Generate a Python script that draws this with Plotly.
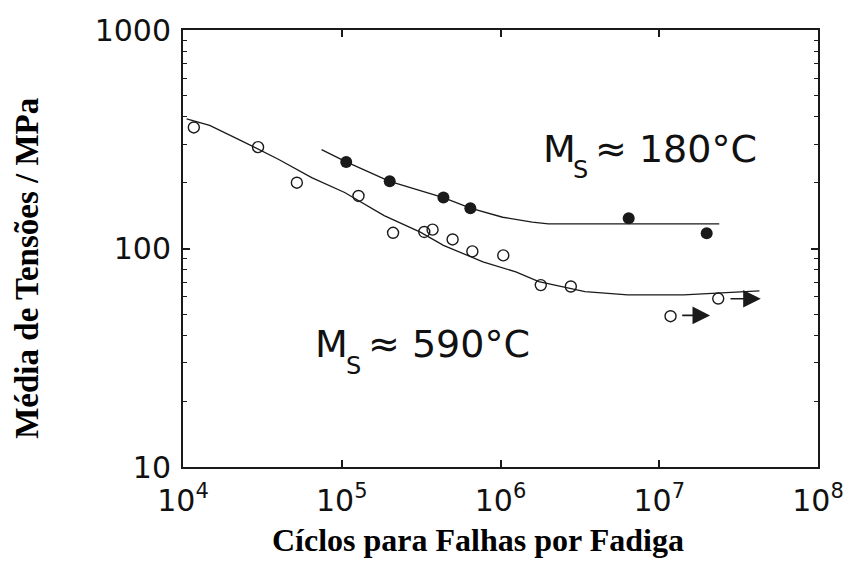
import math
import plotly.graph_objects as go

# Fatigue data: cycles to failure vs. mean stress (MPa)
# Steel with Ms ~ 590 °C (open symbols)
cycles_590 = [11700, 29700, 52150, 127500, 210500, 331000, 373300, 499300,
              664800, 1.041e6, 1.794e6, 2.773e6, 1.178e7, 2.353e7]
stress_590 = [358, 291, 200, 174, 118, 119, 122, 110, 97, 93, 68, 67, 49, 59]

# Steel with Ms ~ 180 °C (filled symbols)
cycles_180 = [106700, 200500, 437000, 646000, 6.42e6, 1.99e7]
stress_180 = [249, 203, 171, 153, 137.5, 117.5]

# Hand-drawn trend curves
curve_590_x = [10540, 14720, 23720, 40120, 64660, 104300, 185000, 312600,
               437000, 775100, 1.249e6, 1.743e6, 3.403e6, 6.33e6, 1.426e7, 4.277e7]
curve_590_y = [392, 366, 309.5, 255.5, 211, 180.4, 141.5, 118.8,
               103.4, 86.9, 78.2, 70.5, 63.5, 61.4, 61.4, 64]
curve_180_x = [74630, 106700, 200500, 437000, 646000, 1.032e6, 1.586e6, 2.003e6, 2.388e7]
curve_180_y = [283.6, 249.3, 203, 171, 153, 139, 132, 129.6, 129.6]

# Run-out specimens (did not fail): arrow tail / head in cycles, at the stress level
runout_tail = [1.365e7, 2.75e7]
runout_head = [2.09e7, 4.36e7]
runout_stress = [49.4, 58.9]

# Curve labels: "M", subscript "S", remainder
label_main = ["M", "M"]
label_sub = ["S", "S"]
label_rest = ["≈ 180°C", "≈ 590°C"]

x_ticks = [1e4, 1e5, 1e6, 1e7, 1e8]
x_ticktext = ["10<sup>4</sup>", "10<sup>5</sup>", "10<sup>6</sup>", "10<sup>7</sup>", "10<sup>8</sup>"]
y_ticks = [10, 100, 1000]
y_ticktext = ["10", "100", "1000"]
y_minor = [20, 30, 40, 50, 60, 70, 80, 90, 200, 300, 400, 500, 600, 700, 800, 900]

x_title = "Cíclos para Falhas por Fadiga"
y_title = "Média de Tensões / MPa"

INK = "#1a1a1a"
TICK_FONT = dict(family="DejaVu Sans", size=30, color="#111111")
LABEL_FONT = dict(family="DejaVu Sans", size=38, color="#111111")
SUB_FONT = dict(family="DejaVu Sans", size=24, color="#111111")
TITLE_FONT = dict(family="Liberation Serif", size=32, color="#000000")

# plot-area geometry in pixels (used to place the free-standing texts)
L, R, T, B = 183, 826, 26, 467


def px_x(px):
    """pixel column -> log10(cycles) on the x axis"""
    return 4 + (px - L) / (R - L) * 4


def px_y(py):
    """pixel row -> log10(stress) on the y axis"""
    return 3 - (py - T) / (B - T) * 2


fig = go.Figure()

fig.add_trace(go.Scatter(x=curve_590_x, y=curve_590_y, mode="lines",
                         line=dict(color=INK, width=1.3), hoverinfo="skip"))
fig.add_trace(go.Scatter(x=curve_180_x, y=curve_180_y, mode="lines",
                         line=dict(color=INK, width=1.3), hoverinfo="skip"))
fig.add_trace(go.Scatter(x=cycles_590, y=stress_590, mode="markers",
                         marker=dict(symbol="circle-open", size=11, color=INK,
                                     line=dict(width=1.4, color=INK))))
fig.add_trace(go.Scatter(x=cycles_180, y=stress_180, mode="markers",
                         marker=dict(symbol="circle", size=12, color=INK)))

annotations = []
for t, h, s in zip(runout_tail, runout_head, runout_stress):
    annotations.append(dict(
        x=math.log10(h), y=math.log10(s), ax=math.log10(t), ay=math.log10(s),
        xref="x", yref="y", axref="x", ayref="y", text="",
        showarrow=True, arrowhead=2, arrowsize=2.2, arrowwidth=1.6,
        arrowcolor=INK, standoff=0, startstandoff=0))

# label anchors: left edge of "M", of "S", of the rest; cap centre row
label_pos = [
    dict(m=545, s=576, r=598, cap=144, sub=166),
    dict(m=315, s=346, r=368, cap=341, sub=364),
]
for main, sub, rest, p in zip(label_main, label_sub, label_rest, label_pos):
    annotations.append(dict(x=px_x(p["m"]), y=px_y(p["cap"] + 2), xref="x", yref="y",
                            xanchor="left", yanchor="middle", text=main,
                            showarrow=False, font=LABEL_FONT))
    annotations.append(dict(x=px_x(p["s"]), y=px_y(p["sub"] + 1), xref="x", yref="y",
                            xanchor="left", yanchor="middle", text=sub,
                            showarrow=False, font=SUB_FONT))
    annotations.append(dict(x=px_x(p["r"]), y=px_y(p["cap"] + 2), xref="x", yref="y",
                            xanchor="left", yanchor="middle", text=rest,
                            showarrow=False, font=LABEL_FONT))

# Axis titles
annotations.append(dict(
    x=(482 - L) / (R - L), y=(B - 541) / (B - T), xref="paper", yref="paper",
    xanchor="center", yanchor="middle", showarrow=False,
    text="<b>" + x_title + "</b>", font=TITLE_FONT))
annotations.append(dict(
    x=(25 - L) / (R - L), y=(B - 266) / (B - T), xref="paper", yref="paper",
    xanchor="center", yanchor="middle", showarrow=False, textangle=-90,
    text="<b>" + y_title + "</b>", font=dict(TITLE_FONT, size=33)))

fig.update_layout(
    width=856, height=576,
    margin=dict(l=L, r=856 - R, t=T, b=576 - B),
    paper_bgcolor="white", plot_bgcolor="white",
    showlegend=False,
    annotations=annotations,
    xaxis=dict(
        type="log", range=[4, 8], tickvals=x_ticks, ticktext=x_ticktext,
        ticks="inside", ticklen=7, tickwidth=1.5, tickcolor=INK,
        showline=True, linewidth=2, linecolor=INK, mirror="allticks",
        showgrid=False, zeroline=False, tickfont=TICK_FONT,
        ticklabelstandoff=6),
    yaxis=dict(
        type="log", range=[1, 3], tickvals=y_ticks, ticktext=y_ticktext,
        ticks="inside", ticklen=7, tickwidth=1.5, tickcolor=INK,
        showline=True, linewidth=2, linecolor=INK, mirror="allticks",
        showgrid=False, zeroline=False, tickfont=TICK_FONT,
        ticklabelstandoff=4,
        minor=dict(tickvals=y_minor, ticks="inside", ticklen=4,
                   tickwidth=1.2, tickcolor=INK, showgrid=False)),
)

fig.write_html("out.html")
